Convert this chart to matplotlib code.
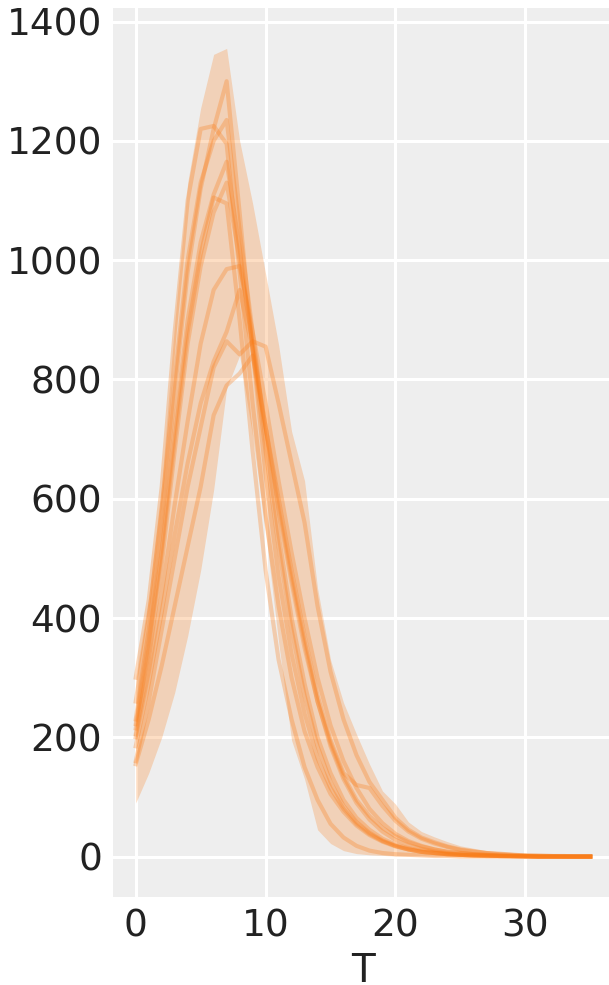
import numpy as np
import matplotlib.pyplot as plt

# time steps
T = np.arange(36)

# HDI band edges
hdi_low = [90, 140, 200, 275, 370, 480, 615, 785, 840, 705, 545, 360, 195, 130, 45, 22, 10, 5, 3, 2,
           1, 1, 1, 0, 0, 0, 0, 0, 0, 0, 0, 0, 0, 0, 0, 0]
hdi_high = [300, 435, 625, 895, 1130, 1255, 1345, 1355, 1200, 1095, 977, 858, 713, 630, 450, 330, 258, 205, 155, 110,
            88, 58, 42, 33, 25, 18, 14, 10, 8, 7, 5, 4, 3, 2, 2, 1]

# sampled trajectories
s1 = [300, 430, 620, 880, 1100, 1220, 1225, 1195, 980, 760, 570, 420, 300, 210, 150, 105, 75, 52, 36, 25,
      17, 12, 8, 6, 4, 3, 2, 2, 1, 1, 1, 0, 0, 0, 0, 0]
s2 = [230, 380, 560, 780, 980, 1120, 1220, 1300, 1080, 850, 640, 470, 340, 240, 165, 115, 80, 55, 38, 26,
      18, 12, 8, 6, 4, 3, 2, 1, 1, 1, 0, 0, 0, 0, 0, 0]
s3 = [260, 400, 580, 800, 1000, 1130, 1200, 1235, 1050, 880, 700, 540, 400, 290, 200, 140, 95, 65, 45, 30,
      20, 14, 10, 7, 5, 3, 2, 2, 1, 1, 1, 0, 0, 0, 0, 0]
s4 = [222, 360, 520, 720, 900, 1030, 1110, 1165, 1020, 850, 680, 520, 380, 270, 185, 125, 85, 58, 40, 27,
      18, 12, 8, 6, 4, 3, 2, 1, 1, 0, 0, 0, 0, 0, 0, 0]
s5 = [205, 330, 490, 680, 860, 990, 1080, 1130, 1000, 860, 720, 590, 470, 360, 260, 185, 130, 90, 62, 42,
      28, 19, 13, 9, 6, 4, 3, 2, 1, 1, 0, 0, 0, 0, 0, 0]
s6 = [215, 350, 510, 700, 880, 1010, 1105, 1095, 900, 680, 480, 330, 230, 150, 95, 55, 32, 18, 10, 6,
      4, 3, 2, 1, 1, 0, 0, 0, 0, 0, 0, 0, 0, 0, 0, 0]
s7 = [200, 310, 440, 590, 730, 860, 950, 985, 990, 880, 760, 630, 510, 400, 300, 220, 160, 115, 80, 56,
      38, 26, 18, 12, 8, 6, 4, 3, 2, 1, 1, 0, 0, 0, 0, 0]
s8 = [185, 290, 410, 540, 660, 760, 830, 880, 950, 850, 720, 600, 480, 370, 270, 195, 140, 120, 115, 85,
      60, 42, 30, 22, 16, 11, 8, 6, 4, 3, 2, 1, 1, 0, 0, 0]
s9 = [160, 260, 380, 500, 620, 720, 820, 864, 842, 864, 855, 760, 660, 560, 420, 310, 230, 170, 125, 95,
      65, 45, 32, 24, 17, 12, 9, 6, 5, 3, 2, 2, 1, 1, 0, 0]
s10 = [155, 230, 320, 420, 520, 620, 740, 790, 810, 840, 720, 580, 460, 350, 260, 190, 135, 95, 68, 48,
       34, 24, 17, 12, 8, 6, 4, 3, 2, 1, 1, 0, 0, 0, 0, 0]
samples = [s1, s2, s3, s4, s5, s6, s7, s8, s9, s10]

orange = "#fa7c17"

plt.rcParams['font.family'] = ['DejaVu Sans']
fig = plt.figure(figsize=(6.09, 9.85), dpi=100)
ax = fig.add_axes([113 / 609, 88 / 985, 500 / 609, 889 / 985])
ax.set_facecolor("#eeeeee")
for sp in ax.spines.values():
    sp.set_visible(False)
ax.grid(True, color="white", lw=2.2)
ax.set_axisbelow(True)

ax.fill_between(T, hdi_low, hdi_high, color=orange, alpha=0.25, lw=0)
for s in samples:
    ax.plot(T, s, color=orange, alpha=0.3, lw=3)

ax.set_xticks([0, 10, 20, 30])
ax.set_yticks(np.arange(0, 1401, 200))
ax.tick_params(length=0, labelsize=27, labelcolor="#222222", pad=8)
ax.set_xlabel("T", fontsize=28, color="#222222", labelpad=6)

fig.savefig("out.png", dpi=100)
